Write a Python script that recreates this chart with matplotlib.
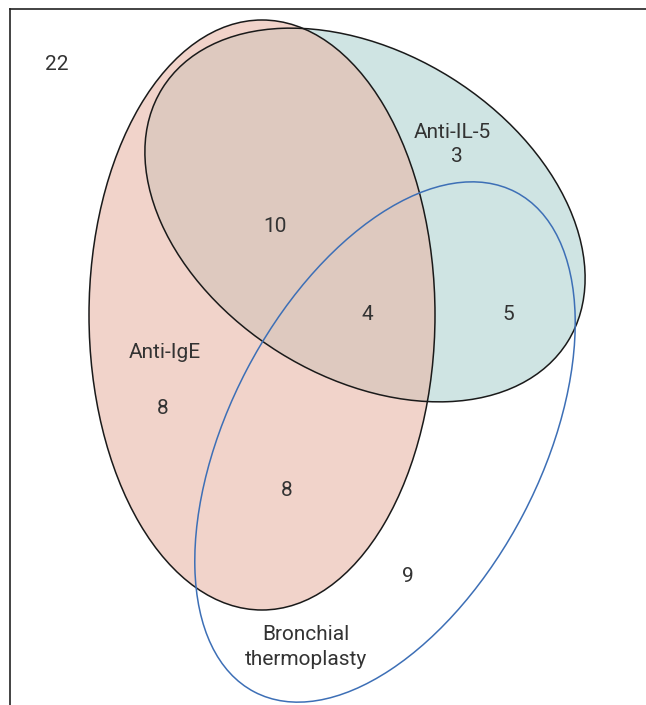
import matplotlib
matplotlib.use('Agg')
import matplotlib.pyplot as plt
from matplotlib.patches import Ellipse

# counts per region of the Venn diagram
region_counts = ['22', '3', '10', '4', '5', '8', '8', '9']
region_xy = [(57, 65), (457, 156), (275, 227), (367, 315), (508, 315),
             (163, 408), (287, 491), (408, 576)]

# set names
set_names = ['Anti-IgE', 'Anti-IL-5', 'Bronchial\nthermoplasty']
set_name_xy = [(165, 353), (452, 132), (306, 647)]

plt.rcParams['font.family'] = ['Roboto', 'DejaVu Sans']

fig = plt.figure(figsize=(6.46, 7.05), dpi=100)
ax = fig.add_axes([10 / 646, 0, 636 / 646, (705 - 9) / 705])
ax.set_xlim(10, 646)
ax.set_ylim(705, 9)
ax.set_xticks([])
ax.set_yticks([])
for side in ['right', 'bottom']:
    ax.spines[side].set_visible(False)
for side in ['top', 'left']:
    ax.spines[side].set_linewidth(1.2)
    ax.spines[side].set_color('#222222')

# Anti-IL-5 (teal)
ax.add_patch(Ellipse((365, 215), 478, 324, angle=32, facecolor='#CFE4E3', edgecolor='none'))
# Anti-IgE (pink, semi-transparent so the overlap darkens)
ax.add_patch(Ellipse((262, 315), 346, 590, angle=0, facecolor='#E9B7A7', alpha=0.6, edgecolor='none'))
# outlines
ax.add_patch(Ellipse((365, 215), 478, 324, angle=32, facecolor='none', edgecolor='#1a1a1a', lw=1.1))
ax.add_patch(Ellipse((262, 315), 346, 590, angle=0, facecolor='none', edgecolor='#1a1a1a', lw=1.1))
# Bronchial thermoplasty (outline only)
ax.add_patch(Ellipse((385, 442), 564, 312, angle=-62.4, facecolor='none', edgecolor='#3D6FB6', lw=1.1))

for txt, (x, y) in zip(region_counts, region_xy):
    ax.text(x, y, txt, ha='center', va='center', fontsize=15, color='#333333')
for txt, (x, y) in zip(set_names, set_name_xy):
    ax.text(x, y, txt, ha='center', va='center', fontsize=15, color='#333333',
            linespacing=1.35)

plt.savefig('out.png', dpi=100)
